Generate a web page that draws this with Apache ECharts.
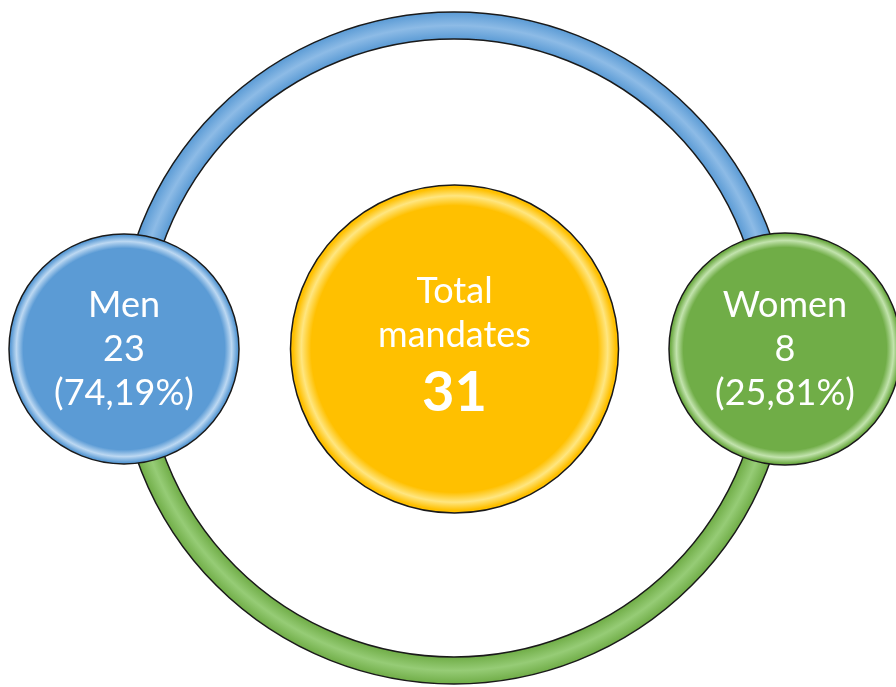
<!DOCTYPE html>
<html>
<head>
<meta charset="utf-8">
<script src="https://cdn.jsdelivr.net/npm/echarts@6/dist/echarts.min.js"></script>
<style>
  html, body { margin: 0; padding: 0; background: #fff; }
  #chart { width: 896px; height: 687px; }
</style>
</head>
<body>
<div id="chart"></div>
<script>
// data
const categories = ["Men", "Women"];
const mandates = [23, 8];
const shares = ["74,19%", "25,81%"];
const totalMandates = 31;
const totalLabel = ["Total", "mandates"];

const chart = echarts.init(document.getElementById("chart"));

// ring geometry (decoration)
const ringCx = 454, ringCy = 348, ringR0 = 309, ringR = 336;

function ringFill(dark, light) {
  return {
    type: "radial", x: ringCx, y: ringCy, r: ringR, global: true,
    colorStops: [
      { offset: ringR0 / ringR, color: dark },
      { offset: 0.96, color: light },
      { offset: 1, color: dark }
    ]
  };
}

function bubbleFill(base, light) {
  return {
    type: "radial", x: 0.5, y: 0.5, r: 0.5,
    colorStops: [
      { offset: 0, color: base },
      { offset: 0.87, color: base },
      { offset: 0.93, color: light },
      { offset: 0.98, color: base },
      { offset: 1, color: base }
    ]
  };
}

const blue = "#5b9bd5", green = "#70ad47", yellow = "#ffc000";

const bubbles = [
  {
    value: [categories[0], 0],
    symbolSize: 230,
    itemStyle: { color: bubbleFill(blue, "#bcd8f2") },
    label: { formatter: [categories[0], mandates[0], "(" + shares[0] + ")"].join("\n") }
  },
  {
    value: ["Total", 0],
    symbolSize: 328,
    itemStyle: { color: bubbleFill(yellow, "#ffe680") },
    label: {
      formatter: "{n|" + totalLabel[0] + "}\n{n|" + totalLabel[1] + "}\n{b|" + totalMandates + "}",
      rich: {
        n: { fontSize: 36, lineHeight: 44, color: "#fff", fontFamily: "Lato" },
        b: { fontSize: 56, lineHeight: 72, fontWeight: "bold", color: "#fff", fontFamily: "Lato" }
      }
    }
  },
  {
    value: [categories[1], 0],
    symbolSize: 232,
    itemStyle: { color: bubbleFill(green, "#c2e3ad") },
    label: { formatter: [categories[1], mandates[1], "(" + shares[1] + ")"].join("\n") }
  }
];

const option = {
  animation: false,
  backgroundColor: "#fff",
  grid: { left: 124, right: 111, top: 11, bottom: 0 },
  xAxis: {
    type: "category",
    data: [categories[0], "Total", categories[1]],
    boundaryGap: false,
    show: false
  },
  yAxis: { type: "value", min: -1, max: 1, show: false },
  graphic: [
    {
      type: "sector", z: 0,
      shape: { cx: ringCx, cy: ringCy, r0: ringR0, r: ringR, startAngle: Math.PI, endAngle: 2 * Math.PI },
      style: { fill: ringFill(blue, "#8dbbe6"), stroke: "#1a1a1a", lineWidth: 1.5 }
    },
    {
      type: "sector", z: 0,
      shape: { cx: ringCx, cy: ringCy, r0: ringR0, r: ringR, startAngle: 0, endAngle: Math.PI },
      style: { fill: ringFill(green, "#96cc76"), stroke: "#1a1a1a", lineWidth: 1.5 }
    }
  ],
  series: [
    {
      type: "scatter",
      z: 5,
      symbol: "circle",
      itemStyle: {
        borderColor: "#1a1a1a",
        borderWidth: 1.5,
        opacity: 1
      },
      label: {
        show: true,
        position: "inside",
        color: "#fff",
        fontSize: 36,
        lineHeight: 44,
        fontFamily: "Lato"
      },
      data: bubbles
    }
  ]
};

chart.setOption(option);
</script>
</body>
</html>
